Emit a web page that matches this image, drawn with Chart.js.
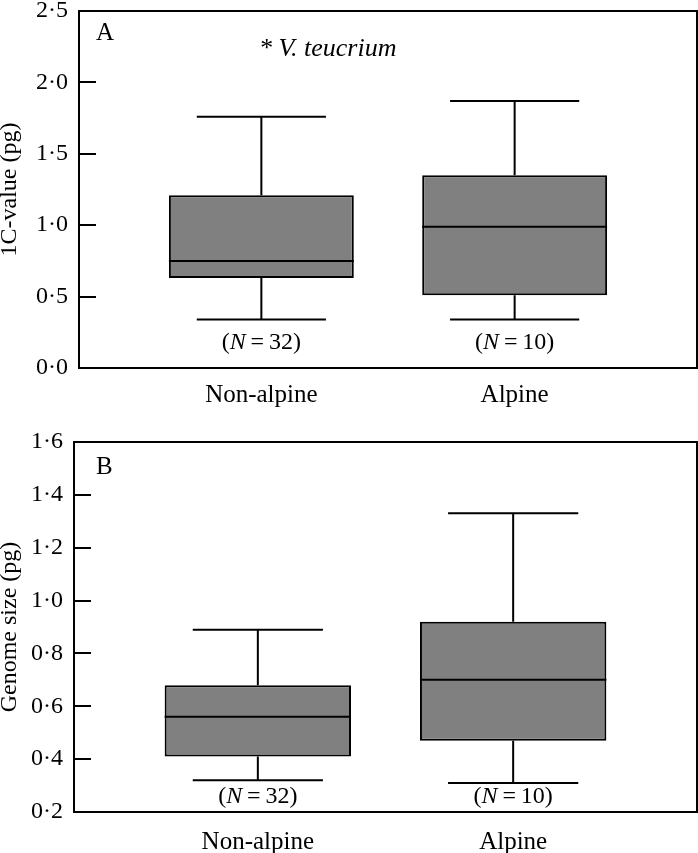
<!DOCTYPE html>
<html>
<head>
<meta charset="utf-8">
<script src="https://cdn.jsdelivr.net/npm/chart.js@4/dist/chart.umd.min.js"></script>
<style>
  body { margin: 0; background: #fff; }
  canvas { display: block; }
</style>
</head>
<body>
<canvas id="chartA" width="698" height="410"></canvas>
<canvas id="chartB" width="698" height="443"></canvas>
<script>
const groups = ['Non-alpine', 'Alpine'];
const xPos = [1, 2];

// panel A: 1C-value (pg)
const cMin = [0.34, 0.34];
const cQ1 = [0.63, 0.51];
const cMed = [0.75, 0.99];
const cQ3 = [1.21, 1.35];
const cMax = [1.76, 1.87];
const cN = [32, 10];

// panel B: genome size (pg)
const gMin = [0.32, 0.31];
const gQ1 = [0.41, 0.47];
const gMed = [0.56, 0.70];
const gQ3 = [0.68, 0.92];
const gMax = [0.89, 1.33];
const gN = [32, 10];

const serif = "'Liberation Serif', 'Times New Roman', serif";
const boxFill = 'rgb(128,128,128)';
const boxWidth = 0.73;   // in x units
const capHalf = 0.255;

// whiskers, caps and median as one broken line
function boxLines(mins, q1s, meds, q3s, maxs) {
    const pts = [];
    xPos.forEach((x, i) => {
        pts.push({x: x, y: mins[i]}, {x: x, y: q1s[i]}, {x: x, y: null});
        pts.push({x: x, y: q3s[i]}, {x: x, y: maxs[i]}, {x: x, y: null});
        pts.push({x: x - capHalf, y: mins[i]}, {x: x + capHalf, y: mins[i]}, {x: x, y: null});
        pts.push({x: x - capHalf, y: maxs[i]}, {x: x + capHalf, y: maxs[i]}, {x: x, y: null});
        pts.push({x: x - boxWidth / 2, y: meds[i]}, {x: x + boxWidth / 2, y: meds[i]}, {x: x, y: null});
    });
    return pts;
}

const panelExtras = {
    id: 'panelExtras',
    afterDatasetsDraw(chart, args, opts) {
        const {ctx, chartArea: area, scales} = chart;
        ctx.save();
        ctx.fillStyle = '#000';
        ctx.textBaseline = 'middle';
        ctx.textAlign = 'left';
        ctx.font = '25px ' + serif;
        ctx.fillText(opts.letter, 96, area.top + opts.letterDy);
        if (opts.note) {
            ctx.font = 'italic 26px ' + serif;
            ctx.fillText(opts.note, area.left + 180, area.top + 38);
        }
        opts.counts.forEach((n, i) => {
            const parts = [['(', ''], ['N', 'italic '], ['\u2009=\u2009' + n + ')', '']];
            let w = 0;
            parts.forEach(p => { ctx.font = p[1] + '24px ' + serif; w += ctx.measureText(p[0]).width; });
            let x = scales.x.getPixelForValue(xPos[i]) - w / 2;
            const y = area.bottom - opts.nDy;
            parts.forEach(p => {
                ctx.font = p[1] + '24px ' + serif;
                ctx.fillText(p[0], x, y);
                x += ctx.measureText(p[0]).width;
            });
        });
        ctx.lineWidth = 2;
        ctx.strokeStyle = '#000';
        ctx.strokeRect(area.left, area.top, area.width, area.height);
        ctx.restore();
    }
};

function makePanel(id, cfg) {
    return new Chart(document.getElementById(id), {
        type: 'bar',
        data: {
            datasets: [
                {
                    type: 'line',
                    data: boxLines(cfg.mins, cfg.q1s, cfg.meds, cfg.q3s, cfg.maxs),
                    borderColor: '#000',
                    borderWidth: 2,
                    pointRadius: 0,
                    spanGaps: false,
                    order: 0
                },
                {
                    data: xPos.map((x, i) => ({x: x, y: [cfg.q1s[i], cfg.q3s[i]]})),
                    backgroundColor: boxFill,
                    borderColor: '#000',
                    borderWidth: 2,
                    borderSkipped: false,
                    categoryPercentage: 1,
                    barPercentage: boxWidth,
                    order: 1
                }
            ]
        },
        options: {
            responsive: false,
            animation: false,
            layout: { padding: { top: cfg.top, right: 1, left: 0, bottom: 0 } },
            scales: {
                x: {
                    type: 'linear',
                    offset: false,
                    min: 0.28,
                    max: 2.72,
                    afterBuildTicks: axis => { axis.ticks = xPos.map(v => ({value: v})); },
                    afterFit: scale => { scale.height = cfg.xHeight; },
                    grid: { display: false, drawTicks: false },
                    border: { display: false },
                    ticks: {
                        autoSkip: false,
                        maxRotation: 0,
                        padding: cfg.xPad,
                        color: '#000',
                        font: { family: serif, size: 25 },
                        callback: (v, i) => groups[i]
                    }
                },
                y: {
                    min: cfg.yMin,
                    max: cfg.yMax,
                    afterFit: scale => {
                        scale.width = cfg.yWidth;
                        scale.paddingTop = 0;
                        scale.paddingBottom = 0;
                    },
                    grid: {
                        drawOnChartArea: false,
                        tickLength: -17,
                        lineWidth: 2,
                        color: '#000'
                    },
                    border: { display: false },
                    ticks: {
                        stepSize: cfg.step,
                        padding: 28,
                        color: '#000',
                        font: { family: serif, size: 24, lineHeight: 0.9 },
                        callback: v => v.toFixed(1).replace('.', '\u00b7')
                    },
                    title: {
                        display: true,
                        text: cfg.title,
                        color: '#000',
                        font: { family: serif, size: 24, lineHeight: 1 },
                        padding: { top: -2, bottom: 0 }
                    }
                }
            },
            plugins: {
                legend: { display: false },
                tooltip: { enabled: false },
                panelExtras: {
                    letter: cfg.letter,
                    letterDy: cfg.letterDy,
                    note: cfg.note,
                    counts: cfg.counts,
                    nDy: cfg.nDy
                }
            }
        },
        plugins: [panelExtras]
    });
}

makePanel('chartA', {
    mins: cMin, q1s: cQ1, meds: cMed, q3s: cQ3, maxs: cMax, counts: cN,
    yMin: 0, yMax: 2.5, step: 0.5, title: '1C-value (pg)',
    top: 11, xHeight: 42, yWidth: 79, xPad: 12,
    letter: 'A', letterDy: 22, note: '* V. teucrium', nDy: 25
});

makePanel('chartB', {
    mins: gMin, q1s: gQ1, meds: gMed, q3s: gQ3, maxs: gMax, counts: gN,
    yMin: 0.2, yMax: 1.6, step: 0.2, title: 'Genome size (pg)',
    top: 32, xHeight: 41, yWidth: 74, xPad: 15,
    letter: 'B', letterDy: 25, note: '', nDy: 15
});
</script>
</body>
</html>
